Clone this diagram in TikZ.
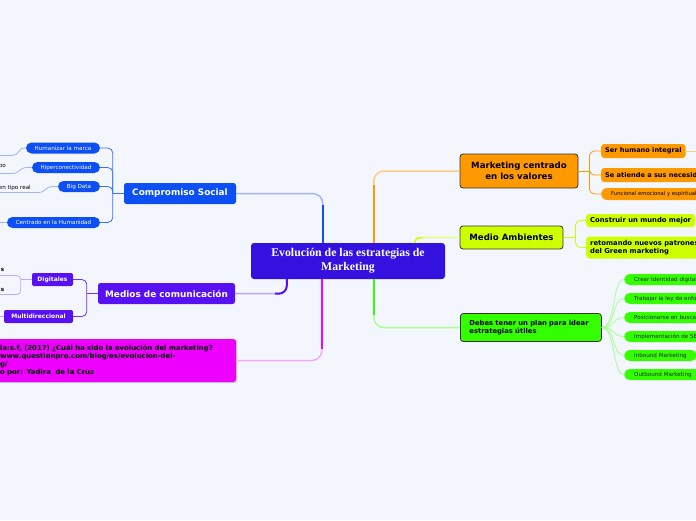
\documentclass[tikz,border=0pt]{standalone}
\usepackage{fontspec}
\setmainfont{DejaVu Sans}
\newfontfamily\serifbold{Liberation Serif}
\usetikzlibrary{calc,shadows}
\definecolor{bgc}{HTML}{F3F6FD}
\definecolor{cen}{HTML}{3511E0}
\definecolor{blu}{HTML}{0B4FF5}
\definecolor{blul}{HTML}{A3B4FB}
\definecolor{vio}{HTML}{5810F5}
\definecolor{viol}{HTML}{C2A8FB}
\definecolor{mag}{HTML}{EE00FF}
\definecolor{magl}{HTML}{F6A8FB}
\definecolor{ora}{HTML}{FF9900}
\definecolor{oral}{HTML}{FFCC88}
\definecolor{ylw}{HTML}{CCFF00}
\definecolor{ylwl}{HTML}{E6FF88}
\definecolor{grn}{HTML}{33FF00}
\definecolor{grnl}{HTML}{A6FF90}
\definecolor{bord}{HTML}{333333}
\tikzset{
  fs/.style={font=\fontsize{#1}{#1}\selectfont},
  fsb/.style={font=\bfseries\fontsize{#1}{#1}\selectfont},
  centralbox/.style={fill=cen, text=white, rounded corners=3pt, minimum width=194pt, minimum height=36pt, align=center, inner sep=0pt,
     font=\serifbold\bfseries\fontsize{11.8}{14}\selectfont},
  leftmain/.style={text=white, rounded corners=2.5pt, minimum height=21pt, inner sep=0pt, fsb=8.9},
  pill/.style={rounded corners=5.5pt, minimum height=11pt, inner sep=0pt, text=white, fs=5.6},
  sqkid/.style={rounded corners=2pt, minimum height=13pt, inner sep=0pt, text=white, fsb=6},
  rightmain/.style={draw=bord, line width=0.8pt, rounded corners=3pt, text=black, inner sep=0pt},
  rkid/.style={rounded corners=3pt, text=black, inner ysep=0pt, inner xsep=4pt, fsb=6.6},
  gkid/.style={fill=grn, rounded corners=5.5pt, minimum height=11pt, inner ysep=0pt, inner xsep=10pt, text=black!85, fs=5.6},
  txt/.style={inner sep=0pt, text=black, fs=5.6},
  thin/.style={line width=0.8pt},
}
\begin{document}
\begin{tikzpicture}[x=1pt,y=-1pt]
\useasboundingbox (0,0) rectangle (696,520);
\fill[bgc] (0,0) rectangle (696,520);
\clip (0,0) rectangle (696,520);

% central
\node[centralbox] (c) at (348,261) {Evolución de las estrategias de\\Marketing};

% left main nodes
\node[leftmain, fill=blu, minimum width=112pt] (cs) at (180,193.5) {Compromiso Social};
\node[leftmain, fill=vio, minimum width=137pt] (md) at (166.5,293.5) {Medios de comunicación};
\node[fill=mag, rounded corners=3pt, anchor=west, inner xsep=6pt, inner ysep=0pt, text width=230pt, minimum height=43pt, align=left,
      font=\bfseries\fontsize{6.9}{8}\selectfont, drop shadow={shadow xshift=1pt, shadow yshift=-1.2pt, opacity=0.35}] (pk) at (-6,360.5)
  {la:s.f, (2017) ¿Cuál ha sido la evolución del marketing?\\www.questionpro.com/blog/es/evolucion-del-\\g/\\o por: Yadira\ \ de la Cruz};

% Compromiso children
\node[pill, fill=blu, minimum width=74pt] (hm) at (63,148) {Humanizar la marca};
\node[pill, fill=blu, minimum width=68pt] (hc) at (66,167.5) {Hiperconectividad};
\node[pill, fill=blu, minimum width=42pt] (bd) at (79,186.5) {Big Data};
\node[pill, fill=blu, minimum width=93pt] (ch) at (53.5,222.5) {Centrado en la Humanidad};
\node[txt, anchor=east] (po) at (6,167) {po};
\node[txt, anchor=east] (tr) at (31,187.5) {en tipo real};

% Medios children
\node[sqkid, fill=vio, minimum width=41pt] (dg) at (52.5,279.5) {Digitales};
\node[sqkid, fill=vio, minimum width=69pt] (mu) at (38.5,316.5) {Multidireccional};
\node[txt, anchor=east, fsb=5.6] (s1) at (4.5,270) {s};
\node[txt, anchor=east, fsb=5.6] (s2) at (4.5,290) {s};

% right main nodes
\node[rightmain, fill=ora, minimum width=118pt, minimum height=34pt, align=center, font=\bfseries\fontsize{8.6}{11.5}\selectfont] (mk) at (519,171) {Marketing centrado\\en los valores};
\node[rightmain, fill=ylw, minimum width=103pt, minimum height=23pt, fsb=8.6] (ma) at (511.5,237.5) {Medio Ambientes};
\node[rightmain, fill=grn, anchor=west, inner xsep=9pt, text width=123pt, minimum height=28pt, align=left, font=\bfseries\fontsize{6.8}{8.5}\selectfont] (db) at (460,327.5)
  {Debes tener un plan para idear\\estrategias útiles};

% orange children
\node[rkid, fill=ora, anchor=west, minimum height=14pt] (o1) at (601,151) {Ser humano integral};
\node[rkid, fill=ora, anchor=west, minimum height=14pt] (o2) at (601,175) {Se atiende a sus necesidades};
\node[rkid, fill=ora, anchor=west, minimum height=12pt, rounded corners=6pt, inner xsep=10pt, fs=5.3] (o3) at (601,194) {Funcional emocional y espiritual};

% yellow children
\node[rkid, fill=ylw, anchor=west, minimum height=13pt, fsb=6.8] (y1) at (586,220.5) {Construir un mundo mejor};
\node[rkid, fill=ylw, anchor=west, minimum height=22pt, align=left, font=\bfseries\fontsize{6.8}{8.5}\selectfont] (y2) at (586,247.5) {retomando nuevos patrones\\del Green marketing};

% green children
\node[gkid, anchor=west] (g1) at (624,279.5) {Crear Identidad digital};
\node[gkid, anchor=west] (g2) at (624,298.5) {Trabajar la ley de enfoque};
\node[gkid, anchor=west] (g3) at (624,317.5) {Posicionarse en buscadores};
\node[gkid, anchor=west] (g4) at (624,336.5) {Implementación de SEO};
\node[gkid, anchor=west] (g5) at (624,355.5) {Inbound Marketing};
\node[gkid, anchor=west] (g6) at (624,374.5) {Outbound Marketing};

% ---- main connectors
\coordinate (cA) at ($(c.north west)+(72,0)$);
\coordinate (cM) at ($(c.south west)+(36,0)$);
\coordinate (cP) at ($(c.south west)+(71,0)$);
\coordinate (cO) at ($(c.north west)+(123,0)$);
\coordinate (cG) at ($(c.south west)+(123,0)$);
\coordinate (cY) at ($(c.north west)+(164,0)$);

\draw[blul, line width=1.5pt, rounded corners=10pt] (cs.east) -| (cA);
\draw[blu, line width=2pt] (cA) -- ($(cA)+(0,-38)$);
\draw[viol, line width=1.5pt, rounded corners=8pt] (md.east) -| (cM);
\draw[vio, line width=2pt, rounded corners=8pt] ($(cM)+(-12,14.5)$) -| (cM);
\draw[magl, line width=1.5pt, rounded corners=10pt] (pk.east) -| (cP);
\draw[mag, line width=2pt] (cP) -- ($(cP)+(0,70)$);
\draw[oral, line width=1.5pt, rounded corners=10pt] (cO) |- (mk.west);
\draw[ora, line width=2pt] (cO) -- ($(cO)+(0,-58)$);
\draw[grnl, line width=1.5pt, rounded corners=10pt] (cG) |- (db.west);
\draw[grn, line width=2pt] (cG) -- ($(cG)+(0,36)$);
\draw[ylwl, line width=1.5pt] (cY) .. controls ($(cY)+(0,-5)$) and ($(cY)+(4,-5)$) .. ($(cY)+(14,-5.5)$) -- (ma.west);
\draw[ylw, line width=1.5pt] (cY) .. controls ($(cY)+(0,-4)$) and ($(cY)+(2,-5)$) .. ($(cY)+(8,-5.3)$);

% ---- Compromiso brackets
\coordinate (csb) at ($(cs.west)+(-11,0)$);
\begin{scope}[blu!80, thin, rounded corners=5pt]
\draw (cs.west) -- (csb);
\draw (hm.east) -| (csb);
\draw (hc.east) -| (csb);
\draw (bd.east) -| (csb);
\draw (ch.east) -| (csb);
\end{scope}
\begin{scope}[blul, thin]
\draw (hm.west) .. controls ($(hm.west)+(-10,0)$) and (22,155.5) .. (10,155.5) -- (-5,155.5);
\draw (hc.west) -- ($(hc.west)+(-6,0)$) .. controls ($(hc.west)+(-12,0)$) and (20,173.5) .. (12,173.5) -- (-5,173.5);
\draw (bd.west) -- ($(bd.west)+(-6,0)$) .. controls ($(bd.west)+(-12,0)$) and (46,192.5) .. (38,192.5) -- (-5,192.5);
\draw (ch.west) -- (-5,222.5);
\end{scope}

% ---- Medios brackets
\coordinate (mdb) at ($(md.west)+(-11,0)$);
\begin{scope}[vio!85, thin, rounded corners=5pt]
\draw (md.west) -- (mdb);
\draw (dg.east) -| (mdb);
\draw (mu.east) -| (mdb);
\end{scope}
\coordinate (dgb) at ($(dg.west)+(-11,0)$);
\begin{scope}[viol, thin, rounded corners=4pt]
\draw (dg.west) -- (dgb);
\draw (-5,275.5) -| (dgb);
\draw (-5,294.5) -| (dgb);
\draw (mu.west) -- (-5,316.5);
\end{scope}

% ---- orange brackets
\coordinate (mkb) at ($(mk.east)+(11,0)$);
\begin{scope}[ora, thin, rounded corners=5pt]
\draw (mk.east) -- (mkb);
\draw (o1.west) -| (mkb);
\draw (o2.west) -| (mkb);
\draw (o3.west) -| (mkb);
\end{scope}
\draw[oral, thin] (o1.east) -- (705,151);

% ---- yellow brackets
\coordinate (mab) at ($(ma.east)+(12,0)$);
\begin{scope}[ylw, thin, rounded corners=5pt]
\draw (ma.east) -- (mab);
\draw (y1.west) -| (mab);
\draw (y2.west) -| (mab);
\end{scope}

% ---- green fan
\begin{scope}[grnl, thin]
\foreach \g in {g1,g2,g3,g4,g5,g6}{
  \draw (db.east) .. controls ($(db.east)+(14,0)$) and ($(\g.west)+(-12,0)$) .. (\g.west);
}
\end{scope}
\end{tikzpicture}
\end{document}
